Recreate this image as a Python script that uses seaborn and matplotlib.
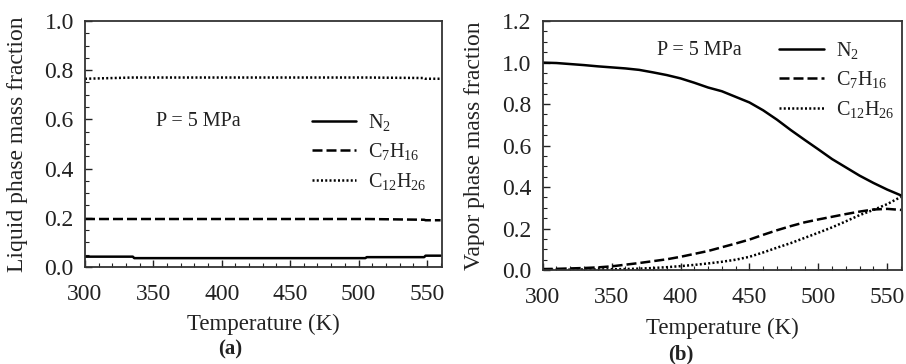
import numpy as np
import pandas as pd
import matplotlib
matplotlib.use("Agg")
import matplotlib.pyplot as plt
from matplotlib.ticker import MultipleLocator
import seaborn as sns

# ---------------- data ----------------
species = ["N$_2$", "C$_7$H$_{16}$", "C$_{12}$H$_{26}$"]

T_liq = [300, 335, 336, 505, 506, 548, 549, 560]
liq_N2 = [0.042, 0.042, 0.036, 0.036, 0.040, 0.040, 0.046, 0.046]
liq_C7 = [0.195, 0.195, 0.195, 0.195, 0.195, 0.192, 0.190, 0.190]
liq_C12 = [0.765, 0.770, 0.770, 0.770, 0.770, 0.768, 0.765, 0.765]

T_vap = [300, 310, 320, 330, 340, 350, 360, 370, 380, 390, 400, 410, 420, 430,
         440, 450, 460, 470, 480, 490, 500, 510, 520, 530, 540, 550, 560]
vap_N2 = [1.000, 0.998, 0.993, 0.988, 0.982, 0.977, 0.972, 0.965, 0.953, 0.940,
          0.924, 0.903, 0.880, 0.862, 0.835, 0.808, 0.770, 0.725, 0.675, 0.628,
          0.582, 0.535, 0.495, 0.455, 0.420, 0.388, 0.360]
vap_C7 = [0.005, 0.006, 0.008, 0.010, 0.013, 0.018, 0.026, 0.034, 0.043, 0.052,
          0.064, 0.078, 0.092, 0.110, 0.128, 0.147, 0.170, 0.192, 0.212, 0.230,
          0.244, 0.257, 0.270, 0.282, 0.292, 0.295, 0.290]
vap_C12 = [0.002, 0.002, 0.002, 0.003, 0.003, 0.004, 0.005, 0.007, 0.010, 0.014,
           0.019, 0.025, 0.032, 0.040, 0.050, 0.064, 0.085, 0.108, 0.130, 0.155,
           0.180, 0.206, 0.235, 0.265, 0.290, 0.318, 0.353]

x_label = "Temperature (K)"
y_label_a = "Liquid phase mass fraction"
y_label_b = "Vapor phase mass fraction"
pressure_text = "P = 5 MPa"
panel_labels = ["(a)", "(b)"]

# ---------------- style ----------------
sns.set_theme(style="white")
plt.rcParams["font.family"] = ["Liberation Serif", "DejaVu Serif"]
plt.rcParams["mathtext.fontset"] = "custom"
plt.rcParams["mathtext.rm"] = "Liberation Serif"
plt.rcParams["mathtext.it"] = "Liberation Serif:italic"
plt.rcParams["text.color"] = "#222222"
plt.rcParams["axes.labelcolor"] = "#222222"
plt.rcParams["xtick.color"] = "#222222"
plt.rcParams["ytick.color"] = "#222222"


def long_df(T, a, b, c):
    rows = []
    for name, vals in zip(species, [a, b, c]):
        for t, v in zip(T, vals):
            rows.append({"T": t, "v": v, "species": name})
    return pd.DataFrame(rows)


df_liq = long_df(T_liq, liq_N2, liq_C7, liq_C12)
df_vap = long_df(T_vap, vap_N2, vap_C7, vap_C12)

dashes = {species[0]: "", species[1]: (4, 1.6), species[2]: (0.8, 0.9)}
palette = {s: "black" for s in species}

fig = plt.figure(figsize=(9.06, 3.64), dpi=100)
ax1 = fig.add_axes([0.0938, 0.2665, 0.394, 0.676])
ax2 = fig.add_axes([0.599, 0.258, 0.397, 0.684])

configs = [
    (ax1, df_liq, 1.0, y_label_a, (352, 0.59), (0.636, 0.63), panel_labels[0], 0.254, 0.012, -0.19),
    (ax2, df_vap, 1.2, y_label_b, (383, 1.06), (0.658, 0.925), panel_labels[1], 0.751, 0.0, -0.19),
]

FS = 17
for ax, df, ymax, ylab, ptxt, legpos, plab, plx, ply, xly in configs:
    sns.lineplot(data=df, x="T", y="v", hue="species", style="species",
                 palette=palette, dashes=dashes, linewidth=1.8, ax=ax,
                 legend=True, sort=False)
    ax.set_xlim(300, 561)
    ax.set_ylim(0, ymax)
    ax.xaxis.set_major_locator(MultipleLocator(50))
    ax.xaxis.set_minor_locator(MultipleLocator(10))
    ax.yaxis.set_major_locator(MultipleLocator(0.2))
    ax.yaxis.set_minor_locator(MultipleLocator(0.05))
    ax.yaxis.set_major_formatter(matplotlib.ticker.FormatStrFormatter("%.1f"))
    ax.tick_params(which="both", direction="in", top=False, right=False,
                   bottom=True, left=True, labelsize=FS)
    ax.tick_params(which="major", length=5, width=1.0, pad=8)
    ax.tick_params(axis="x", which="major", pad=12)
    ax.tick_params(which="minor", length=3, width=0.8)
    for sp in ax.spines.values():
        sp.set_color("#333333")
        sp.set_linewidth(1.3)
    ax.set_xlabel(x_label, fontsize=16.5)
    ax.set_ylabel(ylab, fontsize=FS)
    ax.xaxis.set_label_coords(0.5, xly)
    ax.yaxis.set_label_coords(-0.16, 0.5)
    ax.text(ptxt[0], ptxt[1], pressure_text, fontsize=14.5, va="center", ha="left")
    handles, labels = ax.get_legend_handles_labels()
    ax.legend(handles, labels, loc="upper left", bbox_to_anchor=legpos,
              frameon=False, fontsize=14.5, handlelength=2.2, handletextpad=0.6,
              labelspacing=0.42, borderpad=0, borderaxespad=0)
    fig.text(plx, ply, plab, fontsize=15, fontweight="bold", ha="center", va="bottom")

fig.savefig("out.png", dpi=100)
